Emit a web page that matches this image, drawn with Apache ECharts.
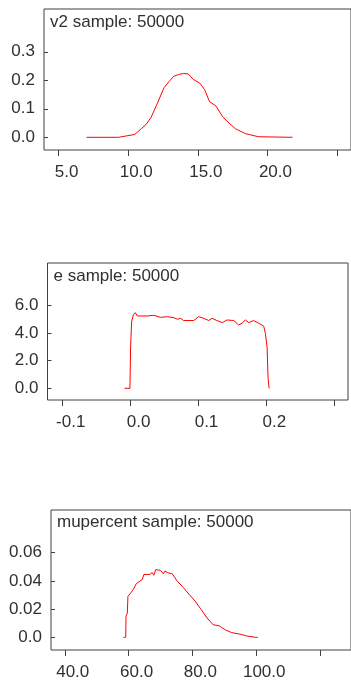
<!DOCTYPE html>
<html><head><meta charset="utf-8">
<script src="https://cdn.jsdelivr.net/npm/echarts@6/dist/echarts.min.js"></script>
<style>html,body{margin:0;padding:0;background:#fff}#c{width:351px;height:681px}</style>
</head><body><div id="c"></div>
<script>
// ---- data ----
const titles = ['v2 sample: 50000', 'e sample: 50000', 'mupercent sample: 50000'];

const v2X = [7.0, 9.3, 9.88, 10.47, 10.93, 11.28, 11.64, 12.1, 12.57, 12.92, 13.27, 13.6, 13.97, 14.32, 14.67, 15.14, 15.49, 15.84, 16.3, 16.78, 17.24, 17.7, 18.41, 19.35, 21.8];
const v2Y = [0, 0, 0.005, 0.01, 0.03, 0.045, 0.07, 0.12, 0.174, 0.195, 0.214, 0.22, 0.224, 0.222, 0.203, 0.19, 0.167, 0.125, 0.11, 0.072, 0.05, 0.03, 0.013, 0.002, 0];

const eX = [-0.009, -0.001, 0.0, 0.0015, 0.004, 0.007, 0.01, 0.025, 0.034, 0.044, 0.054, 0.064, 0.069, 0.074, 0.078, 0.093, 0.1, 0.108, 0.115, 0.12, 0.127, 0.135, 0.142, 0.152, 0.159, 0.164, 0.169, 0.174, 0.181, 0.189, 0.196, 0.1985, 0.201, 0.2025, 0.204];
const eY = [0, 0, 3.0, 4.8, 5.3, 5.47, 5.23, 5.23, 5.28, 5.13, 5.18, 5.1, 4.99, 5.06, 4.9, 4.9, 5.18, 5.06, 4.9, 5.06, 4.9, 4.75, 4.94, 4.9, 4.58, 4.7, 4.94, 4.75, 4.9, 4.7, 4.5, 3.98, 3.0, 0.72, 0];

const muX = [58.4, 59.1, 59.2, 59.6, 59.8, 60.5, 61.5, 62.4, 63.3, 64.3, 64.8, 66.7, 67.4, 67.9, 68.5, 70.0, 70.9, 71.4, 72.3, 73.7, 75.2, 77.1, 78.9, 80.8, 82.7, 84.6, 86.5, 88.4, 90.3, 92.2, 95.0, 96.9, 99.7, 100.5];
const muY = [0, 0, 0.015, 0.017, 0.029, 0.031, 0.034, 0.038, 0.0395, 0.041, 0.0446, 0.0446, 0.046, 0.044, 0.048, 0.0475, 0.045, 0.047, 0.0458, 0.045, 0.040, 0.0354, 0.0306, 0.0258, 0.0198, 0.0137, 0.0089, 0.0082, 0.0053, 0.0034, 0.0022, 0.001, 0, 0];

const v2XTicks = [5, 10, 15, 20, 25];
const v2XLabels = [5, 10, 15, 20];
const v2YTicks = [0, 0.1, 0.2, 0.3];
const eXTicks = [-0.1, 0, 0.1, 0.2, 0.3];
const eXLabels = [-0.1, 0, 0.1, 0.2];
const eYTicks = [0, 2, 4, 6];
const muXTicks = [40, 60, 80, 100, 120];
const muXLabels = [40, 60, 80, 100];
const muYTicks = [0, 0.02, 0.04, 0.06];

// ---- layout ----
const panels = [
  {x: v2X, y: v2Y, xt: v2XTicks, xl: v2XLabels, yt: v2YTicks, xfmt: v => v.toFixed(1), yfmt: v => v.toFixed(1),
   left: 44, top: 9, width: 313.6, height: 141, xmin: 3.95, xmax: 26.0, ymin: -0.0445, ymax: 0.45, titleTop: 14},
  {x: eX, y: eY, xt: eXTicks, xl: eXLabels, yt: eYTicks, xfmt: v => v.toFixed(1), yfmt: v => v.toFixed(1),
   left: 47.5, top: 263, width: 300.5, height: 137, xmin: -0.1224, xmax: 0.3202, ymin: -0.846, ymax: 9.06, titleTop: 267.5},
  {x: muX, y: muY, xt: muXTicks, xl: muXLabels, yt: muYTicks, xfmt: v => v.toFixed(1), yfmt: v => (v === 0 ? '0.0' : v.toFixed(2)),
   left: 51, top: 510, width: 327, height: 140, xmin: 35.69, xmax: 129.7, ymin: -0.009, ymax: 0.0903, titleTop: 513.5}
];

const FONT = '"Liberation Sans", Arial, sans-serif';
const AX = '#404040';
const TXT = '#303030';

const option = {
  animation: false,
  title: [], grid: [], xAxis: [], yAxis: [], series: []
};

panels.forEach((p, i) => {
  option.title.push({
    text: titles[i], left: p.left + 6, top: p.titleTop, padding: 0,
    textStyle: {fontFamily: FONT, fontSize: 17, fontWeight: 'normal', color: TXT}
  });
  option.grid.push({
    left: p.left, top: p.top, width: p.width, height: p.height,
    show: true, borderColor: AX, borderWidth: 1, backgroundColor: 'transparent', containLabel: false
  });
  option.xAxis.push({
    type: 'value', gridIndex: i, min: p.xmin, max: p.xmax, position: 'bottom',
    axisLine: {show: false, onZero: false}, splitLine: {show: false},
    axisTick: {show: true, inside: false, length: 6, lineStyle: {color: AX}, customValues: p.xt},
    axisLabel: {show: true, customValues: p.xl, formatter: p.xfmt, margin: 14, padding: [0, 0, 0, 16],
      fontFamily: FONT, fontSize: 17, color: TXT}
  });
  option.yAxis.push({
    type: 'value', gridIndex: i, min: p.ymin, max: p.ymax, position: 'left',
    axisLine: {show: false, onZero: false}, splitLine: {show: false},
    axisTick: {show: true, inside: true, length: 4, lineStyle: {color: AX}, customValues: p.yt},
    axisLabel: {show: true, customValues: p.yt, formatter: p.yfmt, margin: 9, padding: [3, 0, 0, 0],
      fontFamily: FONT, fontSize: 17, color: TXT}
  });
  option.series.push({
    type: 'line', xAxisIndex: i, yAxisIndex: i, showSymbol: false, symbol: 'none',
    lineStyle: {color: '#ff0000', width: 1}, itemStyle: {color: '#ff0000'},
    data: p.x.map((v, k) => [v, p.y[k]])
  });
});

const chart = echarts.init(document.getElementById('c'), null, {renderer: 'canvas'});
chart.setOption(option);
</script>
</body></html>
